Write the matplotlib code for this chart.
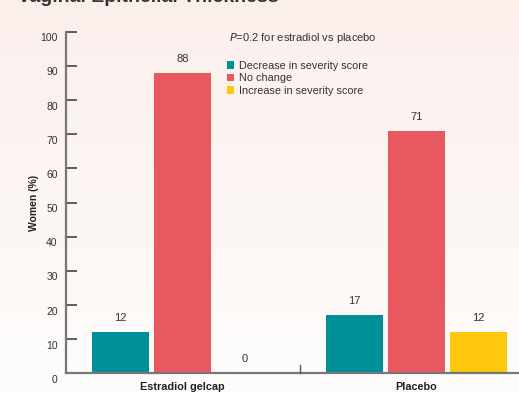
import numpy as np
import matplotlib.pyplot as plt
import matplotlib.transforms as mtransforms

plt.rcParams['font.family'] = ['Liberation Sans', 'DejaVu Sans']

# data
groups = ['Estradiol gelcap', 'Placebo']
series = ['Decrease in severity score', 'No change', 'Increase in severity score']
decrease = [12, 17]
no_change = [88, 71]
increase = [0, 12]
colors = ['#00909a', '#e8585f', '#fec80c']

fig = plt.figure(figsize=(5.19, 3.94), dpi=100)

# background gradient (pink top -> white bottom)
bg = fig.add_axes([0, 0, 1, 1], zorder=-10)
grad = np.linspace(0, 1, 256).reshape(-1, 1)
top = np.array([251, 239, 236]) / 255
bot = np.array([254, 253, 252]) / 255
img = top[None, None, :] * (1 - grad[:, :, None]) + bot[None, None, :] * grad[:, :, None]
bg.imshow(img, aspect='auto', extent=[0, 1, 0, 1])
bg.axis('off')

ax = fig.add_axes([66 / 519, 20.7 / 394, 453 / 519, 341.6 / 394])
ax.set_facecolor('none')

group_x = np.array([0, 3.774])
width = 0.92
for i, vals in enumerate([decrease, no_change, increase]):
    xs = group_x + (i - 1)
    ax.bar(xs, vals, width=width, color=colors[i], label=series[i], zorder=2)
    for x, v in zip(xs, vals):
        ax.annotate(str(v), (x, v), xytext=(0, 6.5), textcoords='offset points',
                    ha='center', va='bottom', fontsize=8, color='#333333')

ax.set_xlim(-1.879, 5.427)
ax.set_ylim(0, 100)

for s in ['top', 'right']:
    ax.spines[s].set_visible(False)
for s in ['left', 'bottom']:
    ax.spines[s].set_color('#777777')
    ax.spines[s].set_linewidth(1.6)

ax.set_yticks(range(0, 101, 10))
ax.tick_params(axis='y', direction='in', length=8, width=1.2, color='#444444',
               labelsize=7.5, labelcolor='#333333', pad=6)
offset = mtransforms.ScaledTranslation(0, -4 / 72, fig.dpi_scale_trans)
for lab in ax.get_yticklabels():
    lab.set_transform(lab.get_transform() + offset)

ax.set_xticks(group_x)
ax.set_xticklabels(groups, fontweight='bold', fontsize=7.8, color='#222222')
ax.tick_params(axis='x', length=0, pad=6)
# separator tick between groups
ax.plot([1.895, 1.895], [0, 2.4], color='#555555', lw=1, clip_on=False, zorder=3)

ax.set_ylabel('Women (%)', fontweight='bold', fontsize=7.5, color='#222222', labelpad=1)

ax.legend(loc='upper left', bbox_to_anchor=(0.345, 0.927), frameon=False,
          fontsize=7.8, handlelength=0.7, handleheight=0.7, handletextpad=0.4,
          labelspacing=0.22, borderaxespad=0, labelcolor='#333333')
fig.text(229 / 519, 1 - 38 / 394, r'$\it{P}$=0.2 for estradiol vs placebo',
         fontsize=8, color='#333333', va='center', ha='left')

# title cut off at top
fig.text(-5 / 519, 1 - 1.5 / 394, 'F  Vaginal Epithelial Thickness', fontsize=14,
         fontweight='bold', color='#333333', va='baseline', ha='left')

fig.savefig('out.png', dpi=100)
